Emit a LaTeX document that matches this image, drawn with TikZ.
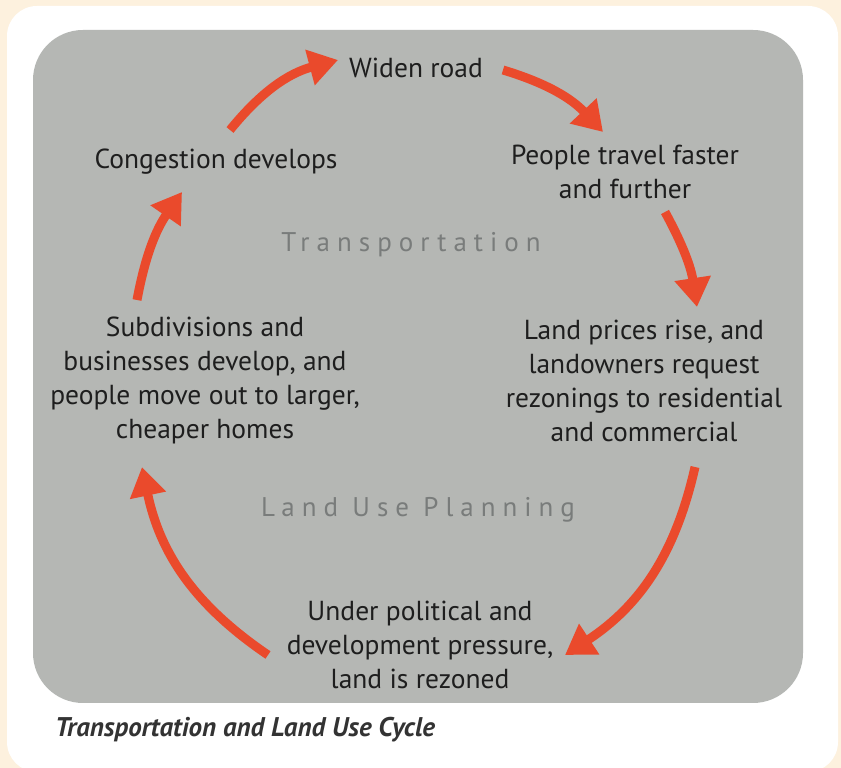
\documentclass[tikz,border=0pt]{standalone}
\usepackage{fontspec}
\setmainfont{PT Sans}
\newfontfamily\spacedfont[LetterSpace=26]{PT Sans}
\usetikzlibrary{arrows.meta}

\definecolor{cream}{HTML}{FDF1DE}
\definecolor{panel}{HTML}{B5B7B4}
\definecolor{cyclered}{HTML}{EA4A2C}
\definecolor{fieldgray}{HTML}{797C7B}
\definecolor{ink}{HTML}{1E1E1E}
\definecolor{captink}{HTML}{333333}

\begin{document}
\begin{tikzpicture}[
  x=1pt, y=1pt,
  stage/.style ={align=center, text=ink, inner sep=0pt,
                 font=\fontsize{27.5}{34}\selectfont},
  field/.style ={text=fieldgray, inner sep=0pt,
                 font=\spacedfont\fontsize{27}{30}\selectfont},
  cyc/.style   ={draw=cyclered, line width=9pt,
                 -{Triangle[length=29pt,width=35pt]}},
]

% background and panel
\useasboundingbox (0,0) rectangle (841,768);
\fill[cream] (0,0) rectangle (841,768);
\fill[white, rounded corners=30pt] (7,-4) rectangle (838,762);
\fill[panel, rounded corners=50pt] (33,65) rectangle (803,738);

% stages of the cycle
\node[stage] (widen)   at (416,700) {Widen road};
\node[stage] (travel)  at (625,596) {People travel faster\\and further};
\node[stage] (prices)  at (644,387) {Land prices rise, and\\landowners request\\rezonings to residential\\and commercial};
\node[stage] (rezone)  at (420,123) {Under political and\\development pressure,\\land is rezoned};
\node[stage] (subdiv)  at (205,388) {Subdivisions and\\businesses develop, and\\people move out to larger,\\cheaper homes};
\node[stage] (congest) at (216,606) {Congestion develops};

\node[field] (transp)  at (411,523) {Transportation};
\node[field] (landuse) at (418,258) {Land Use Planning};

\node[anchor=west, text=captink, inner sep=0pt,
      font=\bfseries\itshape\fontsize{27}{30}\selectfont]
  (caption) at (55,38) {Transportation and Land Use Cycle};

% arrow ends
\coordinate (a1s) at (230,638); \coordinate (a1e) at (338,708);
\coordinate (a2s) at (503,698); \coordinate (a2e) at (603,636);
\coordinate (a3s) at (665,556); \coordinate (a3e) at (697,461);
\coordinate (a4s) at (695,301); \coordinate (a4e) at (565,113);
\coordinate (a5s) at (268,113); \coordinate (a5e) at (142,301);
\coordinate (a6s) at (137,468); \coordinate (a6e) at (182,576);

\draw[cyc] (a1s) to[bend left=18] (a1e);
\draw[cyc] (a2s) to[bend left=15] (a2e);
\draw[cyc] (a3s) to[bend left=10] (a3e);
\draw[cyc] (a4s) to[bend left=22] (a4e);
\draw[cyc] (a5s) to[bend left=22] (a5e);
\draw[cyc] (a6s) to[bend left=12] (a6e);

\end{tikzpicture}
\end{document}
